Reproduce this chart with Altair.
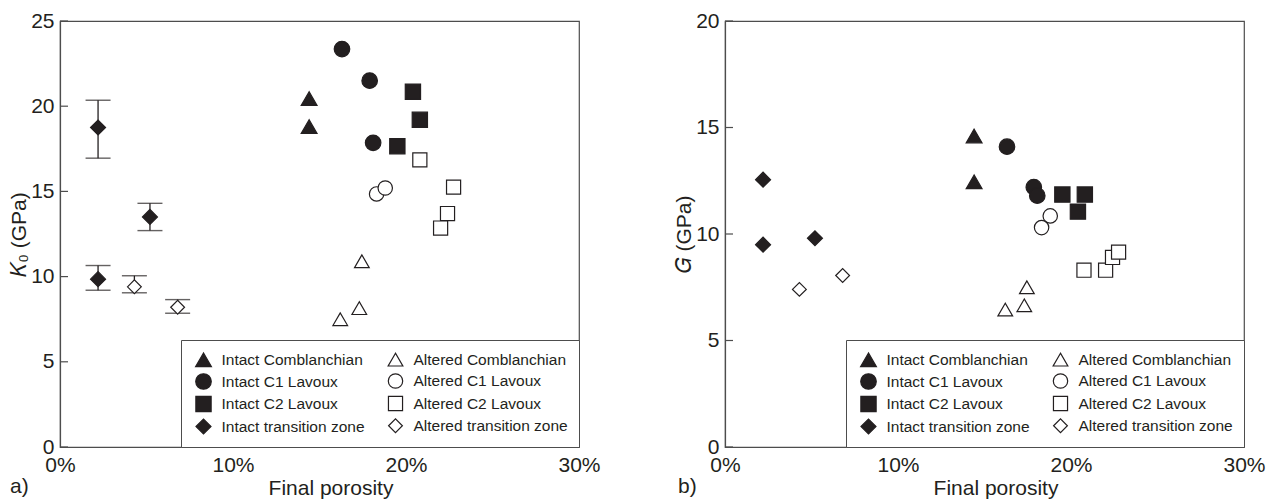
import altair as alt
import pandas as pd

FONT = "Liberation Sans"
INK = "#231f20"
FRAME = "#4d4d4d"

# ---- categories (legend order: intact in column 1, altered in column 2) ----
series = [
    "Intact Comblanchian", "Intact C1 Lavoux",
    "Intact C2 Lavoux", "Intact transition zone",
    "Altered Comblanchian", "Altered C1 Lavoux",
    "Altered C2 Lavoux", "Altered transition zone",
]

# ---- panel a) K0 (GPa) vs final porosity (%) ----
k_ic_x = [14.4, 14.4]
k_ic_y = [20.45, 18.8]
k_i1_x = [16.3, 17.9, 18.1]
k_i1_y = [23.35, 21.5, 17.85]
k_i2_x = [20.4, 20.8, 19.5]
k_i2_y = [20.85, 19.2, 17.65]
k_it_x = [2.2, 5.2, 2.2]
k_it_y = [18.75, 13.5, 9.85]
k_it_lo = [16.95, 12.7, 9.2]
k_it_hi = [20.35, 14.3, 10.65]
k_ac_x = [17.45, 17.3, 16.2]
k_ac_y = [10.9, 8.15, 7.5]
k_a1_x = [18.3, 18.8]
k_a1_y = [14.85, 15.2]
k_a2_x = [20.8, 22.75, 22.4, 22.0]
k_a2_y = [16.85, 15.25, 13.7, 12.85]
k_at_x = [4.3, 6.8]
k_at_y = [9.4, 8.2]
k_at_lo = [9.05, 7.85]
k_at_hi = [10.05, 8.65]

# ---- panel b) G (GPa) vs final porosity (%) ----
g_ic_x = [14.4, 14.4]
g_ic_y = [14.6, 12.45]
g_i1_x = [16.3, 17.85, 18.05]
g_i1_y = [14.1, 12.2, 11.8]
g_i2_x = [19.5, 20.8, 20.4]
g_i2_y = [11.85, 11.85, 11.05]
g_it_x = [2.2, 2.2, 5.2]
g_it_y = [12.55, 9.5, 9.8]
g_ac_x = [16.2, 17.3, 17.45]
g_ac_y = [6.45, 6.65, 7.5]
g_a1_x = [18.3, 18.8]
g_a1_y = [10.3, 10.85]
g_a2_x = [20.75, 22.0, 22.4, 22.75]
g_a2_y = [8.3, 8.3, 8.9, 9.15]
g_at_x = [4.3, 6.8]
g_at_y = [7.4, 8.05]

# ---- axis ticks ----
x_ticks = [0.0, 0.1, 0.2, 0.3]
x_inner_ticks = [0.1, 0.2]
k_ticks = [0, 5, 10, 15, 20, 25]
g_ticks = [0, 5, 10, 15, 20]

# ---- styles ----
shapes = ["triangle-up", "circle", "square", "diamond",
          "triangle-up", "circle", "square", "diamond"]
fills = [INK, INK, INK, INK, "white", "white", "white", "white"]
strokes = [INK] * 8
sizes = [250, 190, 225, 330, 250, 190, 225, 330]

W, H = 519, 426


def points_df(pairs):
    rows = []
    for name, xs, ys in pairs:
        for xv, yv in zip(xs, ys):
            rows.append({"series": name, "porosity": xv / 100.0, "value": yv})
    return pd.DataFrame(rows)


def err_df(triples):
    rows = []
    for xs, los, his in triples:
        for xv, lo, hi in zip(xs, los, his):
            rows.append({"porosity": xv / 100.0, "lo": lo, "hi": hi})
    return pd.DataFrame(rows)


k_points = points_df([
    (series[0], k_ic_x, k_ic_y), (series[1], k_i1_x, k_i1_y),
    (series[2], k_i2_x, k_i2_y), (series[3], k_it_x, k_it_y),
    (series[4], k_ac_x, k_ac_y), (series[5], k_a1_x, k_a1_y),
    (series[6], k_a2_x, k_a2_y), (series[7], k_at_x, k_at_y),
])
k_err = err_df([(k_it_x, k_it_lo, k_it_hi), (k_at_x, k_at_lo, k_at_hi)])

g_points = points_df([
    (series[0], g_ic_x, g_ic_y), (series[1], g_i1_x, g_i1_y),
    (series[2], g_i2_x, g_i2_y), (series[3], g_it_x, g_it_y),
    (series[4], g_ac_x, g_ac_y), (series[5], g_a1_x, g_a1_y),
    (series[6], g_a2_x, g_a2_y), (series[7], g_at_x, g_at_y),
])


def make_panel(pts, errs, ymax, yticks, ytitle, label, label_dx):
    legend = alt.Legend(
        title=None, orient="bottom-right", offset=0, columns=2,
        strokeColor=FRAME, fillColor="white", padding=10.5, symbolOffset=3,
        labelFont=FONT, labelFontSize=15.5, labelColor=INK, labelLimit=400,
        labelOffset=9, rowPadding=1.5, columnPadding=18,
        symbolStrokeColor=INK, symbolStrokeWidth=1.2,
    )
    xs = alt.Scale(domain=[0, 0.3], nice=False, zero=False)
    ys = alt.Scale(domain=[0, ymax], nice=False)
    x_enc = alt.X("porosity:Q", scale=xs,
                  axis=alt.Axis(format=".0%", values=x_ticks, ticks=False,
                                labelFlush=False,
                                title="Final porosity", labelPadding=7,
                                titlePadding=2, titleX=W / 2 + 11))
    y_enc = alt.Y("value:Q", scale=ys,
                  axis=alt.Axis(values=yticks, ticks=False, title=ytitle,
                                labelFlush=False,
                                labelPadding=6, titlePadding=1))

    pts_layer = alt.Chart(pts).mark_point(
        filled=True, strokeWidth=1.2, opacity=1
    ).encode(
        x=x_enc, y=y_enc,
        shape=alt.Shape("series:N", scale=alt.Scale(domain=series, range=shapes), legend=legend),
        fill=alt.Fill("series:N", scale=alt.Scale(domain=series, range=fills), legend=legend),
        stroke=alt.Stroke("series:N", scale=alt.Scale(domain=series, range=strokes), legend=legend),
        size=alt.Size("series:N", scale=alt.Scale(domain=series, range=sizes), legend=legend),
    )

    layers = []
    if errs is not None:
        rules = alt.Chart(errs).mark_rule(color=INK, strokeWidth=1.3).encode(
            x=alt.X("porosity:Q", scale=xs),
            y=alt.Y("lo:Q", scale=ys), y2="hi:Q",
        )
        caps_lo = alt.Chart(errs).mark_tick(
            orient="horizontal", color=INK, size=25, thickness=1.4
        ).encode(x=alt.X("porosity:Q", scale=xs), y=alt.Y("lo:Q", scale=ys))
        caps_hi = alt.Chart(errs).mark_tick(
            orient="horizontal", color=INK, size=25, thickness=1.4
        ).encode(x=alt.X("porosity:Q", scale=xs), y=alt.Y("hi:Q", scale=ys))
        layers += [rules, caps_lo, caps_hi]

    ytick_layer = alt.Chart(pd.DataFrame({"value": yticks})).mark_rule(
        color=FRAME, strokeWidth=1.2
    ).encode(y=alt.Y("value:Q", scale=ys), x=alt.value(0), x2=alt.value(8))
    xtick_layer = alt.Chart(pd.DataFrame({"porosity": x_inner_ticks})).mark_rule(
        color=FRAME, strokeWidth=1.2
    ).encode(x=alt.X("porosity:Q", scale=xs), y=alt.value(H), y2=alt.value(H - 8))
    label_layer = alt.Chart(pd.DataFrame({"t": [label]})).mark_text(
        align="left", baseline="alphabetic", font=FONT, fontSize=21, color=INK
    ).encode(text="t:N", x=alt.value(label_dx), y=alt.value(H + 46))

    return alt.layer(*layers, pts_layer, ytick_layer, xtick_layer, label_layer).properties(
        width=W, height=H
    )


left = make_panel(k_points, k_err, 25, k_ticks, "𝐾₀ (GPa)", "a)", -50)
right = make_panel(g_points, None, 20, g_ticks, "𝐺 (GPa)", "b)", -47)

chart = alt.hconcat(left, right, spacing=72).resolve_scale(
    shape="independent", fill="independent", size="independent", stroke="independent"
).configure(
    padding={"left": 0, "top": 1, "right": 2, "bottom": 0},
    font=FONT,
).configure_view(
    stroke=FRAME, strokeWidth=1.2
).configure_axis(
    labelFont=FONT, titleFont=FONT, labelFontSize=21, titleFontSize=21,
    labelColor=INK, titleColor=INK, titleFontWeight="normal",
    domainColor=FRAME, domainWidth=1.2, grid=False,
)

chart.save("out.html", embed_options={"renderer": "svg", "actions": False})
